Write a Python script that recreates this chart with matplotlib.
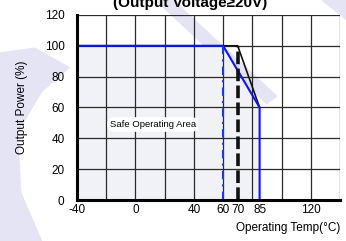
import matplotlib
matplotlib.use('Agg')
import matplotlib.pyplot as plt
from matplotlib.patches import Polygon

plt.rcParams['font.family'] = ['Liberation Sans', 'DejaVu Sans']
plt.rcParams['axes.unicode_minus'] = False

# datos de la curva de derating
temp_negro = [-40, 70, 85]
pot_negro = [100, 100, 60]
temp_azul = [-40, 60, 85, 85]
pot_azul = [100, 100, 60, 0]
temp_limite_azul = 60
temp_limite_negro = 70
x_ticks = [-40, 0, 40, 60, 70, 85, 120]
y_ticks = [0, 20, 40, 60, 80, 100, 120]
grid_x = [-40, -20, 0, 20, 40, 60, 80, 100, 120, 140]
grid_y = [0, 20, 40, 60, 80, 100, 120]

fig = plt.figure(figsize=(3.46, 2.41), dpi=100)

# marca de agua (fondo lila)
lila = '#e4e4f5'
fig.patches.append(Polygon([[0.45, 1.0], [0.50, 1.0], [0.80, 0.60], [0.77, 0.57]],
                           closed=True, transform=fig.transFigure, color=lila, zorder=0))
fig.patches.append(Polygon([[0.0, 0.78], [0.10, 0.80], [0.20, 0.72], [0.12, 0.62],
                            [0.05, 0.45], [0.06, 0.20], [0.12, 0.0], [0.0, 0.0]],
                           closed=True, transform=fig.transFigure, color=lila, zorder=0))
fig.patches.append(Polygon([[0.93, 1.0], [1.0, 1.0], [1.0, 0.92]],
                           closed=True, transform=fig.transFigure, color=lila, zorder=0))

ax = fig.add_axes([0.2225, 0.170, 0.760, 0.768])
ax.set_zorder(2)
ax.patch.set_alpha(0)

# area segura
ax.fill_between(temp_azul, pot_azul, 0, color='#f1f2f7', zorder=1)

for gx in grid_x:
    ax.axvline(gx, color='#2a2a2a', linewidth=0.9, zorder=2)
for gy in grid_y:
    ax.axhline(gy, color='#2a2a2a', linewidth=0.9, zorder=2)

ax.plot(temp_negro, pot_negro, color='#111111', linewidth=1.2, zorder=3)
ax.plot(temp_azul, pot_azul, color='#0a14ff', linewidth=1.5, zorder=4)
ax.plot([temp_limite_azul, temp_limite_azul], [0, 100], color='#0a3cff',
        linewidth=1.5, linestyle=(0, (4, 2.5, 1, 2.5)), zorder=4)
ax.plot([temp_limite_negro, temp_limite_negro], [0, 100], color='#111111',
        linewidth=2.6, linestyle=(0, (3.5, 1.2)), zorder=4)

ax.text(12, 49, 'Safe Operating Area', fontsize=6.8, ha='center', va='center', zorder=5,
        bbox=dict(boxstyle='round,pad=0.3,rounding_size=0.8', fc='white', ec='none'))

ax.set_xlim(-40, 140)
ax.set_ylim(0, 120)
ax.set_xticks(x_ticks)
ax.set_yticks(y_ticks)
ax.tick_params(which='both', length=0, labelsize=8.5)
ax.tick_params(axis='y', pad=9)
ax.tick_params(axis='x', pad=3)

for lado in ['top', 'right']:
    ax.spines[lado].set_visible(False)
ax.spines['left'].set_linewidth(2.2)
ax.spines['bottom'].set_linewidth(2.2)
ax.spines['left'].set_zorder(6)
ax.spines['bottom'].set_zorder(6)

fig.text(0.065, 0.555, 'Output Power (%)', rotation=90, fontsize=8.5, ha='center', va='center')
fig.text(0.985, 0.055, 'Operating Temp(°C)', fontsize=8.5, ha='right', va='center')
fig.text(0.55, 0.972, '(Output Voltage≥20V)', fontsize=11, fontweight='bold',
         ha='center', va='baseline')

fig.savefig('out.png', dpi=100)
